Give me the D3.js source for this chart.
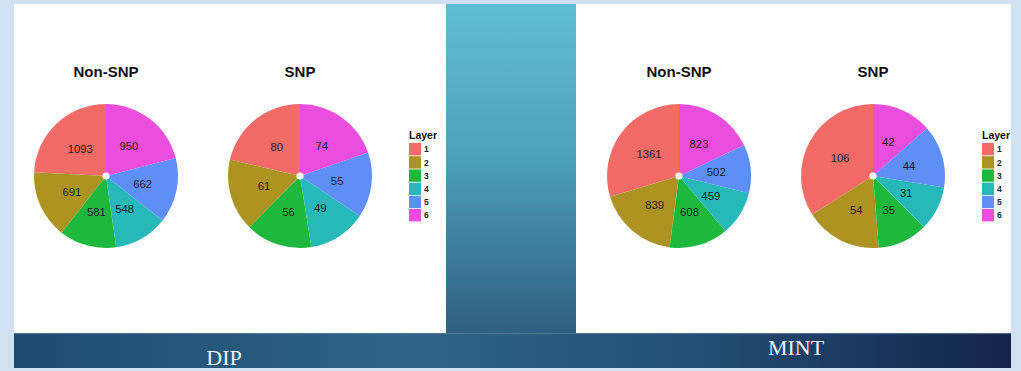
<!DOCTYPE html>
<html>
<head>
<meta charset="utf-8">
<script src="https://cdn.jsdelivr.net/npm/d3@7"></script>
<style>
  html, body { margin: 0; padding: 0; background: #d0e2f2; }
  svg { display: block; }
</style>
</head>
<body>
<svg id="chart" width="1021" height="371"></svg>
<script>
// Layer categories and per-panel counts
const layers = ["1", "2", "3", "4", "5", "6"];
const layerColors = ["#f26b66", "#ad9422", "#1fb83f", "#27b8ba", "#5d8ff6", "#eb4edc"];
const pieTitles = ["Non-SNP", "SNP"];
const panelNames = ["DIP", "MINT"];
const dipNonSNP = [1093, 691, 581, 548, 662, 950];
const dipSNP = [80, 61, 56, 49, 55, 74];
const mintNonSNP = [1361, 839, 608, 459, 502, 823];
const mintSNP = [106, 54, 35, 31, 44, 42];

const panels = [
  { name: panelNames[0], x: 14, w: 432, pies: [dipNonSNP, dipSNP], cx: [92, 286], legendX: 395, labelX: 224, labelY: 365 },
  { name: panelNames[1], x: 576, w: 435, pies: [mintNonSNP, mintSNP], cx: [103, 297], legendX: 406, labelX: 796, labelY: 355 }
];

const svg = d3.select("#chart");
const defs = svg.append("defs");

// strip between the two panels
const stripGrad = defs.append("linearGradient").attr("id", "stripGrad")
  .attr("x1", 0).attr("y1", 0).attr("x2", 0).attr("y2", 1);
stripGrad.append("stop").attr("offset", "0%").attr("stop-color", "#61bed2");
stripGrad.append("stop").attr("offset", "45%").attr("stop-color", "#4da2bb");
stripGrad.append("stop").attr("offset", "100%").attr("stop-color", "#2f5e80");

// bottom banner
const bannerGrad = defs.append("linearGradient").attr("id", "bannerGrad")
  .attr("x1", 0).attr("y1", 0).attr("x2", 1).attr("y2", 0);
bannerGrad.append("stop").attr("offset", "0%").attr("stop-color", "#1f4a6f");
bannerGrad.append("stop").attr("offset", "40%").attr("stop-color", "#2e6586");
bannerGrad.append("stop").attr("offset", "70%").attr("stop-color", "#224d72");
bannerGrad.append("stop").attr("offset", "100%").attr("stop-color", "#13234a");

svg.append("rect").attr("x", 445).attr("y", 4).attr("width", 131).attr("height", 330)
  .attr("fill", "url(#stripGrad)");
svg.append("rect").attr("x", 14).attr("y", 333).attr("width", 997).attr("height", 35)
  .attr("fill", "url(#bannerGrad)");
svg.append("rect").attr("x", 14).attr("y", 333).attr("width", 997).attr("height", 1.2)
  .attr("fill", "#5e7f98").attr("opacity", 0.7);

const radius = 72;
const centerY = 176;
const color = d3.scaleOrdinal().domain(layers).range(layerColors);

// counter-clockwise from 12 o'clock, in layer order
const pie = d3.pie().sort(null).startAngle(0).endAngle(-2 * Math.PI);
const arc = d3.arc().innerRadius(0).outerRadius(radius);
const labelArc = d3.arc().innerRadius(radius * 0.52).outerRadius(radius * 0.52);

panels.forEach((p, pi) => {
  defs.append("clipPath").attr("id", "clip" + pi)
    .append("rect").attr("x", 0).attr("y", 0).attr("width", p.w).attr("height", 329);

  const g = svg.append("g").attr("transform", `translate(${p.x},4)`);
  g.append("rect").attr("width", p.w).attr("height", 329).attr("fill", "#ffffff");
  const inner = g.append("g").attr("clip-path", `url(#clip${pi})`);

  p.pies.forEach((vals, k) => {
    const data = vals.map((v, i) => ({ layer: layers[i], value: v }));
    const pg = inner.append("g").attr("transform", `translate(${p.cx[k]},${centerY - 4})`);

    pg.selectAll("path").data(pie.value(d => d.value)(data)).join("path")
      .attr("d", arc)
      .attr("fill", d => color(d.data.layer));

    pg.append("circle").attr("r", 3.6).attr("fill", "#ffffff");

    pg.selectAll("text.val").data(pie.value(d => d.value)(data)).join("text")
      .attr("class", "val")
      .attr("transform", d => `translate(${labelArc.centroid(d)})`)
      .attr("text-anchor", "middle").attr("dy", "0.36em")
      .attr("font-family", "Liberation Sans, Arial, sans-serif")
      .attr("font-size", 11.3).attr("fill", "#1c1c1c")
      .text(d => d.data.value);

    inner.append("text")
      .attr("x", p.cx[k]).attr("y", 73)
      .attr("text-anchor", "middle")
      .attr("font-family", "Liberation Sans, Arial, sans-serif")
      .attr("font-weight", "bold").attr("font-size", 15).attr("fill", "#111")
      .text(pieTitles[k]);
  });

  // legend
  const lg = inner.append("g").attr("transform", `translate(${p.legendX},135)`);
  lg.append("text").attr("x", 0).attr("y", 0)
    .attr("font-family", "Liberation Sans, Arial, sans-serif")
    .attr("font-weight", "bold").attr("font-size", 10.5).attr("fill", "#111")
    .text("Layer");
  const key = lg.selectAll("g.key").data(layers).join("g")
    .attr("class", "key")
    .attr("transform", (d, i) => `translate(0,${4 + i * 13.2})`);
  key.append("rect").attr("width", 12).attr("height", 12.4)
    .attr("fill", d => color(d));
  key.append("text").attr("x", 15).attr("y", 6.4).attr("dy", "0.35em")
    .attr("font-family", "Liberation Sans, Arial, sans-serif")
    .attr("font-weight", "bold").attr("font-size", 8.5).attr("fill", "#222")
    .text(d => d);

  svg.append("text")
    .attr("x", p.labelX).attr("y", p.labelY)
    .attr("text-anchor", "middle")
    .attr("font-family", "Liberation Serif, Times New Roman, serif")
    .attr("font-size", 22).attr("fill", "#eef3f7")
    .text(p.name);
});

// light frame on the right and bottom edges
svg.append("rect").attr("x", 1011).attr("y", 0).attr("width", 10).attr("height", 371).attr("fill", "#d0e2f2");
svg.append("rect").attr("x", 0).attr("y", 368).attr("width", 1021).attr("height", 3).attr("fill", "#d0e2f2");
</script>
</body>
</html>
